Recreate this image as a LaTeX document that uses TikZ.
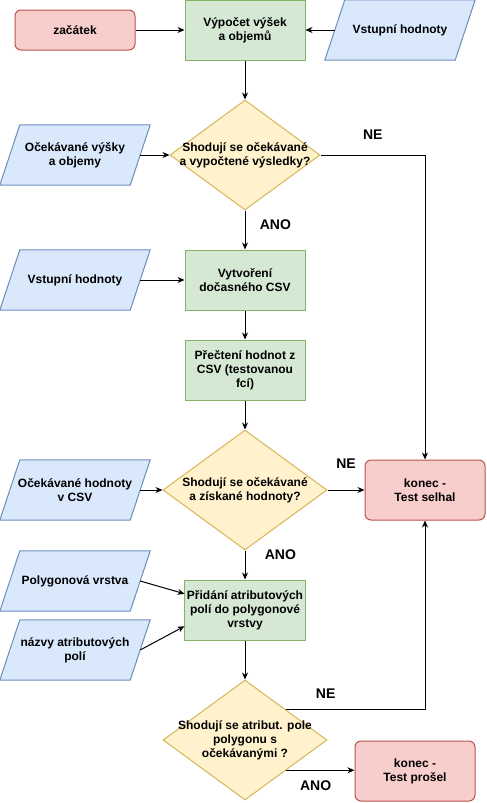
\documentclass[tikz,border=0pt]{standalone}
\usepackage{fontspec}
\setmainfont{Liberation Sans}
\usetikzlibrary{positioning,shapes.geometric,arrows.meta,calc,backgrounds}
\definecolor{procfill}{HTML}{D5E8D4}
\definecolor{procline}{HTML}{82B366}
\definecolor{termfill}{HTML}{F8CECC}
\definecolor{termline}{HTML}{B85450}
\definecolor{datafill}{HTML}{DAE8FC}
\definecolor{dataline}{HTML}{6C8EBF}
\definecolor{decfill}{HTML}{FFF2CC}
\definecolor{decline}{HTML}{D6B656}

\begin{document}
\begin{tikzpicture}[x=1pt,y=1pt,txt/.style={font=\bfseries\fontsize{12}{14}\selectfont,align=center},proc/.style={txt,draw=procline,fill=procfill,line width=1pt,minimum width=120pt,minimum height=60pt,inner sep=2pt},term/.style={txt,draw=termline,fill=termfill,line width=1pt,rounded corners=6pt,minimum width=120pt,minimum height=60pt},data/.style={txt,minimum width=130pt,minimum height=60pt,inner sep=1pt},dataframe/.style={draw=dataline,fill=datafill,line width=1pt},dec/.style={diamond,draw=decline,fill=decfill,line width=1pt,inner sep=0pt},arr/.style={-{Stealth[length=7pt,width=6pt]},line width=1pt},lbl/.style={font=\bfseries\fontsize{14}{16}\selectfont}]

\useasboundingbox (0,0) rectangle (487,-803);

\node[proc] (vypocet)   at (245,-30)                       {Výpočet výšek\\a objemů};
\node[term] (zacatek)   [on grid,left=170pt of vypocet,minimum height=40pt] {začátek};
\node[data] (vstup1)    [on grid,right=155pt of vypocet]   {Vstupní hodnoty};

\node[dec,minimum width=150pt,minimum height=110pt,label={[txt]center:{Shodují se očekávané\\a vypočtené výsledky?}}] (shoda1) [on grid,below=125pt of vypocet] {};
\node[data] (ocek1)     [on grid,left=170pt of shoda1]     {Očekávané výšky\\a objemy};

\node[proc] (vytvoreni) [on grid,below=125pt of shoda1]    {Vytvoření\\dočasného CSV};
\node[data] (vstup2)    [on grid,left=170pt of vytvoreni]  {Vstupní hodnoty};
\node[proc] (precteni)  [on grid,below=90pt of vytvoreni]  {Přečtení hodnot z\\CSV (testovanou\\fcí)};

\node[dec,minimum width=164pt,minimum height=120pt,label={[txt]center:{Shodují se očekávané\\a získané hodnoty?}}] (shoda2) [on grid,below=120pt of precteni] {};
\node[data] (ocek2)     [on grid,left=170pt of shoda2]     {Očekávané hodnoty\\v CSV};
\node[term] (selhal)    [on grid,right=180pt of shoda2]    {konec -\\Test selhal};

\node[proc] (pridani)   [on grid,below=120pt of shoda2]    {Přidání atributových\\polí do polygonové\\vrstvy};
\node[data] (polyg)     at (75,-581)                       {Polygonová vrstva};
\node[data] (nazvy)     at (75,-650)                       {názvy atributových\\polí};

\node[dec,minimum width=164pt,minimum height=120pt,label={[txt]center:{Shodují se atribut. pole\\polygonu s\\očekávanými ?}}] (shoda3) [on grid,below=130pt of pridani] {};
\node[term] (prosel)    at (415,-771)                      {konec -\\Test prošel};

% parallelograms behind the data nodes
\begin{scope}[on background layer]
\foreach \n in {vstup1,ocek1,vstup2,ocek2,polyg,nazvy}
  \draw[dataframe] ($(\n.south west)+(-10,0)$) -- ($(\n.north west)+(10,0)$) -- ($(\n.north east)+(10,0)$) -- ($(\n.south east)+(-10,0)$) -- cycle;
\end{scope}

\draw[arr] (zacatek) -- (vypocet);
\draw[arr] (vstup1) -- (vypocet);
\draw[arr] (vypocet) -- (shoda1);
\draw[arr] (ocek1) -- (shoda1);
\draw[arr] (shoda1.east) -| node[lbl,pos=0.25,above=12pt] {NE} (selhal.north);
\draw[arr] (shoda1) -- node[lbl,pos=0.375,right=11pt] {ANO} (vytvoreni);
\draw[arr] (vstup2) -- (vytvoreni);
\draw[arr] (vytvoreni) -- (precteni);
\draw[arr] (precteni) -- (shoda2);
\draw[arr] (ocek2) -- (shoda2);
\draw[arr] (shoda2) -- node[lbl,above=18pt] {NE} (selhal);
\draw[arr] (shoda2) -- node[lbl,pos=0.15,right=16pt] {ANO} (pridani);
\draw[arr] (polyg.east) -- (pridani.165);
\draw[arr] (nazvy.east) -- (pridani.195);
\draw[arr] (pridani) -- (shoda3);
\draw[arr] (shoda3.north east) -| node[lbl,pos=0.142,above=7pt] {NE} (selhal.south);
\draw[arr] (shoda3.south east) -- node[lbl,pos=0.43,below=7pt] {ANO} (shoda3.south east -| prosel.west);

\end{tikzpicture}
\end{document}
